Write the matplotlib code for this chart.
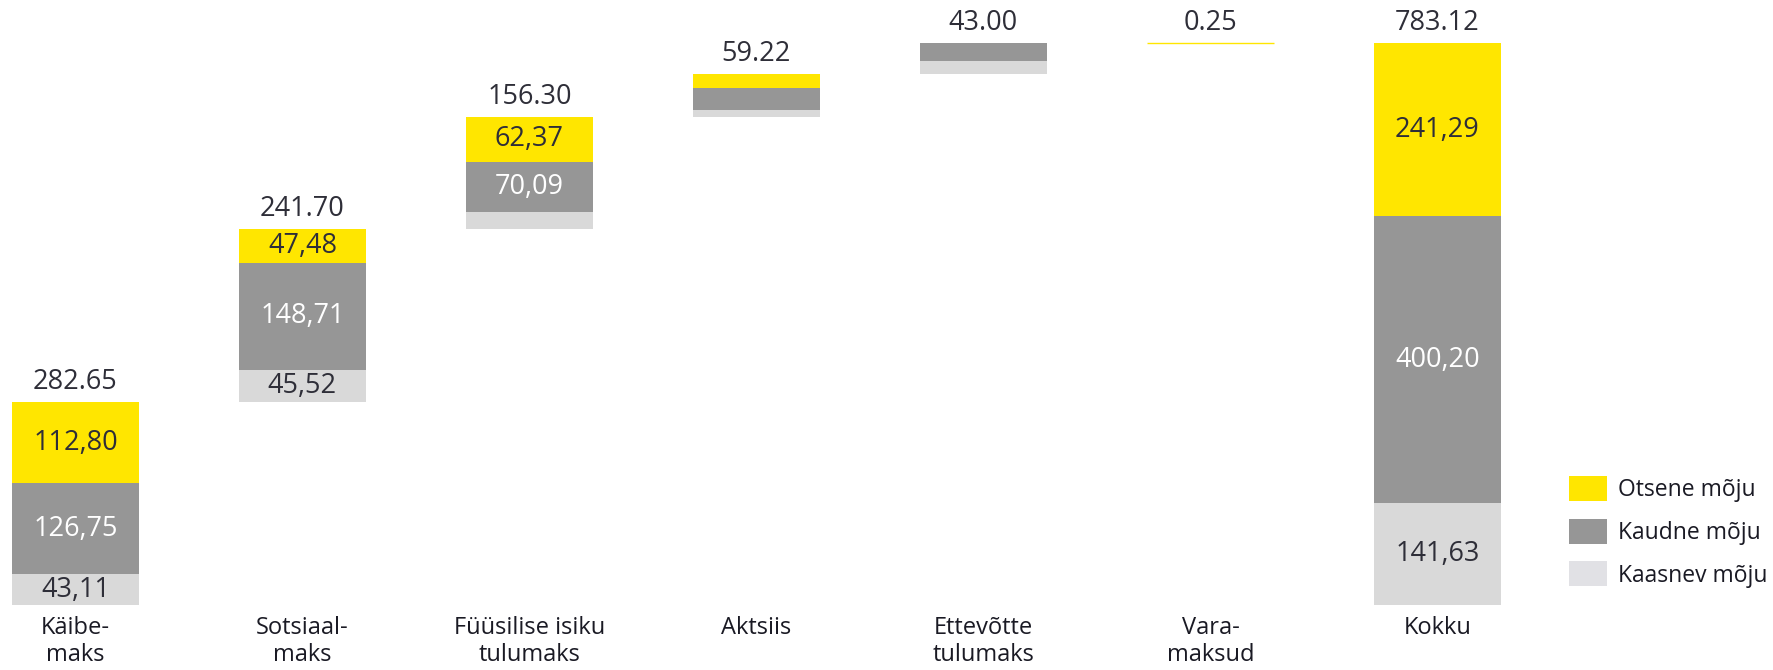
import matplotlib
matplotlib.use("Agg")
import matplotlib.pyplot as plt
from matplotlib.patches import Patch
import numpy as np

categories = ["Käibe-\nmaks", "Sotsiaal-\nmaks", "Füüsilise isiku\ntulumaks", "Aktsiis",
              "Ettevõtte\ntulumaks", "Vara-\nmaksud", "Kokku"]
kaasnev = [43.11, 45.52, 23.84, 10.13, 19.03, 0.0, 141.63]
kaudne = [126.75, 148.71, 70.09, 30.70, 23.97, 0.0, 400.20]
otsene = [112.80, 47.48, 62.37, 18.39, 0.0, 0.25, 241.29]
totals = [282.65, 241.70, 156.30, 59.22, 43.00, 0.25, 783.12]
series_names = ["Otsene mõju", "Kaudne mõju", "Kaasnev mõju"]

YELLOW = "#FFE600"
GRAY = "#969696"
LIGHT = "#D9D9D9"
LEG_LIGHT = "#E1E1E5"
DARK = "#2E2E38"

plt.rcParams['font.family'] = ['Open Sans', 'DejaVu Sans']

fig = plt.figure(figsize=(17.74, 6.70), dpi=100)
ax = fig.add_axes([0, 0, 1, 1])
ax.set_axis_off()

n = len(categories)
x = np.arange(n)
width = 0.56

# waterfall bases: cumulative for all but the last (total) bar
bases = []
cum = 0.0
for i in range(n):
    if i == n - 1:
        bases.append(0.0)
    else:
        bases.append(cum)
        cum += totals[i]

label_min = 40.0
for i in range(n):
    b = bases[i]
    segs = [(kaasnev[i], LIGHT, DARK), (kaudne[i], GRAY, "white"), (otsene[i], YELLOW, DARK)]
    for val, col, tcol in segs:
        if val <= 0:
            continue
        ax.bar(x[i], val, width=width, bottom=b, color=col, edgecolor=col,
               linewidth=1.0 if val < 1 else 0)
        if val >= label_min:
            ax.text(x[i], b + val / 2, f"{val:.2f}".replace(".", ","),
                    ha="center", va="center", fontsize=19.5, color=tcol)
        b += val
    ax.annotate(f"{totals[i]:.2f}", xy=(x[i], bases[i] + totals[i]),
                xytext=(0, 14.5), textcoords="offset points",
                ha="center", va="center", fontsize=19.5, color=DARK)
    ax.text(x[i], 0.080, categories[i], transform=ax.get_xaxis_transform(),
            ha="center", va="top", fontsize=17, color="#1A1A24", linespacing=1.12)

px_per_unit = 561.7 / 783.12
center0 = 75.4
spacing = 227.0
ax.set_xlim(-center0 / spacing, (1774 - center0) / spacing)
ax.set_ylim(-65 / px_per_unit, (670 - 65) / px_per_unit)

handles = [Patch(facecolor=YELLOW), Patch(facecolor=GRAY), Patch(facecolor=LEG_LIGHT)]
leg = ax.legend(handles, series_names, loc="upper left",
                bbox_to_anchor=(1569 / 1774, 194 / 670), frameon=False,
                fontsize=16.5, handlelength=1.65, handleheight=1.3,
                handletextpad=0.5, labelspacing=0.72, borderpad=0, borderaxespad=0)
for t in leg.get_texts():
    t.set_color("#1A1A24")

fig.savefig("out.png", dpi=100)
